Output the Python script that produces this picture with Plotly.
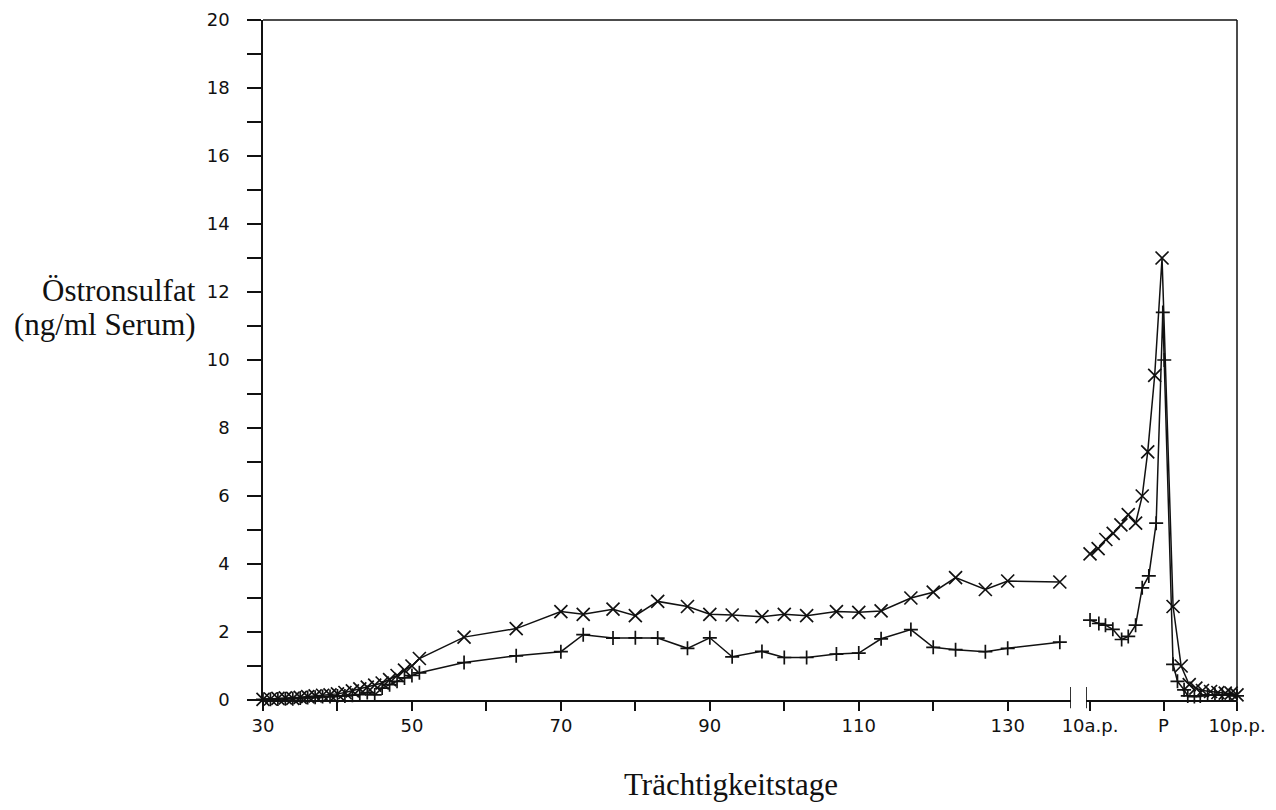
import plotly.graph_objects as go

# ---- data: gestation days 30..138 (left part) ----
days_left = [30, 31, 32, 33, 34, 35, 36, 37, 38, 39, 40, 41, 42, 43, 44, 45, 46, 47, 48, 49, 50, 51,
             57, 64, 70, 73, 77, 80, 83, 87, 90, 93, 97, 100, 103, 107, 110, 113, 117, 120, 123,
             127, 130, 137]
upper_left = [0.02, 0.03, 0.05, 0.06, 0.05, 0.08, 0.10, 0.12, 0.14, 0.15, 0.18, 0.22, 0.27, 0.33,
              0.38, 0.44, 0.50, 0.60, 0.72, 0.88, 1.00, 1.22,
              1.85, 2.10, 2.60, 2.52, 2.67, 2.48, 2.90, 2.75, 2.52, 2.50, 2.45, 2.52, 2.48,
              2.60, 2.58, 2.62, 3.00, 3.17, 3.60, 3.25, 3.50, 3.47]
lower_left = [0.02, 0.02, 0.03, 0.04, 0.04, 0.06, 0.07, 0.08, 0.10, 0.10, 0.12, 0.12, 0.14, 0.16,
              0.22, 0.15, 0.35, 0.45, 0.55, 0.65, 0.72, 0.80,
              1.10, 1.30, 1.42, 1.92, 1.82, 1.83, 1.82, 1.52, 1.83, 1.27, 1.43, 1.25, 1.25,
              1.35, 1.38, 1.80, 2.07, 1.55, 1.48, 1.42, 1.52, 1.70]

# ---- data: days around parturition (right part, P = 0) ----
days_right_upper = [-10, -8.9, -7.85, -6.85, -5.8, -4.8, -3.8, -2.9, -2.15, -1.2, -0.2,
                    1.3, 2.4, 3.5, 4.4, 5.3, 6.4, 7.4, 8.4, 9.2, 10]
upper_right = [4.30, 4.45, 4.72, 4.90, 5.15, 5.45, 5.20, 6.00, 7.30, 9.55, 13.00,
               2.75, 1.00, 0.45, 0.35, 0.28, 0.25, 0.22, 0.20, 0.20, 0.15]
days_right_lower = [-10, -8.8, -7.9, -6.9, -5.7, -4.8, -3.8, -2.9, -2.0, -1.0, -0.1, 0.1,
                    1.3, 1.9, 2.8, 3.3, 4.2, 5.0, 6.0, 7.0, 8.0, 9.0, 10]
lower_right = [2.35, 2.25, 2.20, 2.08, 1.78, 1.87, 2.20, 3.30, 3.65, 5.20, 11.40, 10.00,
               1.05, 0.55, 0.30, 0.12, 0.10, 0.12, 0.15, 0.15, 0.15, 0.15, 0.12]

# ---- tick labels ----
x_ticks_left = [30, 40, 50, 60, 70, 80, 90, 100, 110, 120, 130]
x_text_left = ["30", "", "50", "", "70", "", "90", "", "110", "", "130"]
x_ticks_right = [-10, 0, 10]
x_text_right = ["10a.p.", "P", "10p.p."]
y_ticks = list(range(0, 21))
y_text = [str(v) if v % 2 == 0 else "" for v in y_ticks]

INK = "#111111"
line_style = dict(color=INK, width=1.5)
x_marker = dict(symbol="x-thin-open", size=13, line=dict(color=INK, width=1.7), color=INK)
p_marker = dict(symbol="cross-thin-open", size=10, line=dict(color=INK, width=1.7), color=INK)

fig = go.Figure()
fig.add_trace(go.Scatter(x=days_left, y=upper_left, mode="lines+markers", line=line_style,
                         marker=x_marker, xaxis="x", yaxis="y", cliponaxis=False, showlegend=False))
fig.add_trace(go.Scatter(x=days_left, y=lower_left, mode="lines+markers", line=line_style,
                         marker=p_marker, xaxis="x", yaxis="y", cliponaxis=False, showlegend=False))
fig.add_trace(go.Scatter(x=days_right_upper, y=upper_right, mode="lines+markers", line=line_style,
                         marker=x_marker, xaxis="x2", yaxis="y", cliponaxis=False, showlegend=False))
fig.add_trace(go.Scatter(x=days_right_lower, y=lower_right, mode="lines+markers", line=line_style,
                         marker=p_marker, xaxis="x2", yaxis="y", cliponaxis=False, showlegend=False))

tick_font = dict(family="DejaVu Sans", size=18, color=INK)

# page has an 8px body margin; positions below are screen targets
OFF = 8
W, H = 1276, 810
plot_left, plot_right, plot_top, plot_bottom = 263, 1237, 20, 700
L = plot_left - OFF
T = plot_top - OFF
pw = plot_right - plot_left
ph = plot_bottom - plot_top
R = W - L - pw
B = H - T - ph
left_end_px = 1071
right_start_px = 1086


def px_x(sx):
    return (sx - plot_left) / pw


def px_y(sy):
    return (plot_bottom - sy) / ph


fig.update_layout(
    width=W, height=H,
    margin=dict(l=L, r=R, t=T, b=B, autoexpand=False),
    paper_bgcolor="white", plot_bgcolor="white",
    xaxis=dict(domain=[0, px_x(left_end_px)], range=[30, 138.5],
               tickmode="array", tickvals=x_ticks_left, ticktext=x_text_left,
               ticks="outside", ticklen=9, tickwidth=1.5, tickcolor=INK,
               showline=True, linecolor=INK, linewidth=1.5, showgrid=False, zeroline=False,
               tickfont=tick_font, anchor="y"),
    xaxis2=dict(domain=[px_x(right_start_px), 1], range=[-10.55, 10],
                tickmode="array", tickvals=x_ticks_right, ticktext=x_text_right,
                ticks="outside", ticklen=9, tickwidth=1.5, tickcolor=INK,
                showline=True, linecolor=INK, linewidth=1.5, showgrid=False, zeroline=False,
                tickfont=tick_font, anchor="y"),
    yaxis=dict(range=[0, 20], tickmode="array", tickvals=y_ticks, ticktext=y_text,
               ticks="outside", ticklen=14, tickwidth=1.5, tickcolor=INK,
               showline=True, linecolor=INK, linewidth=1.5, showgrid=False, zeroline=False,
               tickfont=tick_font, ticklabelstandoff=14),
    shapes=[
        dict(type="line", xref="paper", yref="paper", x0=0, x1=1, y0=1, y1=1,
             line=dict(color=INK, width=1.5)),
        dict(type="line", xref="paper", yref="paper", x0=1, x1=1, y0=0, y1=1,
             line=dict(color=INK, width=1.5)),
        dict(type="line", xref="x", yref="paper", x0=138.5, x1=138.5, y0=-0.012, y1=0.019,
             line=dict(color=INK, width=1.7)),
        dict(type="line", xref="x2", yref="paper", x0=-10.55, x1=-10.55, y0=-0.012, y1=0.019,
             line=dict(color=INK, width=1.7)),
    ],
    annotations=[
        dict(text="Östronsulfat", xref="paper", yref="paper",
             x=px_x(198), y=px_y(290), xanchor="right", yanchor="middle",
             showarrow=False, font=dict(family="Liberation Serif", size=31, color=INK)),
        dict(text="(ng/ml Serum)", xref="paper", yref="paper",
             x=px_x(198), y=px_y(324), xanchor="right", yanchor="middle",
             showarrow=False, font=dict(family="Liberation Serif", size=31, color=INK)),
        dict(text="Trächtigkeitstage", xref="paper", yref="paper",
             x=px_x(731), y=px_y(784), xanchor="center", yanchor="middle",
             showarrow=False, font=dict(family="Liberation Serif", size=31, color=INK)),
    ],
)

fig.write_html("out.html")
